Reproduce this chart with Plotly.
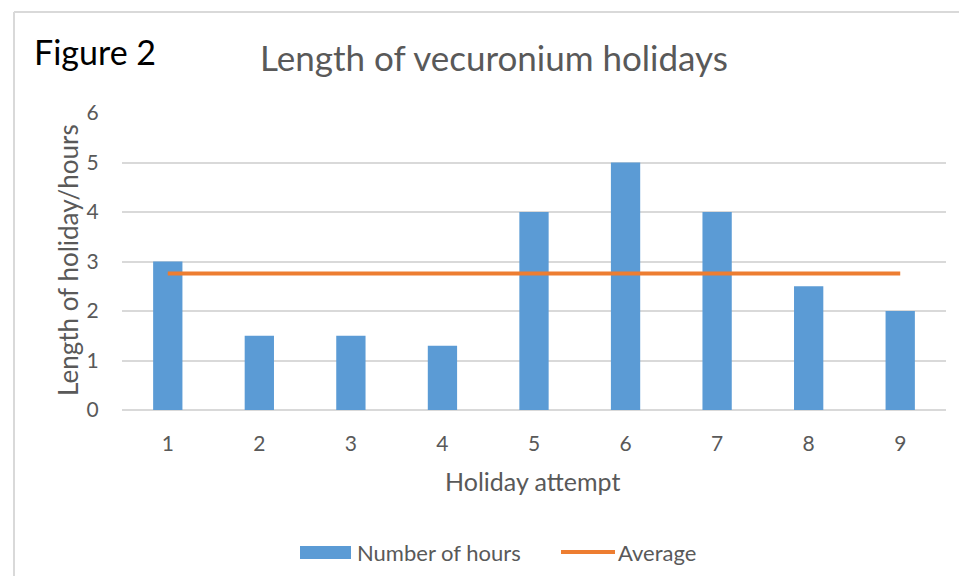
import plotly.graph_objects as go

attempts = [1, 2, 3, 4, 5, 6, 7, 8, 9]
hours = [3, 1.5, 1.5, 1.3, 4, 5, 4, 2.5, 2]
average = [round(sum(hours) / len(hours), 2)] * len(hours)
y_ticks = [0, 1, 2, 3, 4, 5, 6]
series_names = ["Number of hours", "Average"]
series_colors = ["#5b9bd5", "#ed7d31"]

FONT = "Lato, 'Open Sans', sans-serif"
GRAY = "#595959"
GRID = "#d9d9d9"

OFF = 8  # page body margin
W, H = 967 - OFF, 576 - OFF
L, R, T, B = 122 - OFF, 967 - 946, 113 - OFF, 576 - 410
pw, ph = W - L - R, H - T - B

def px(x):
    return (x - OFF - L) / pw

def py(y):
    return (H - B - (y - OFF)) / ph

fig = go.Figure()
fig.add_trace(go.Bar(x=attempts, y=hours, name=series_names[0],
                     marker=dict(color=series_colors[0], line=dict(width=0)),
                     width=0.32))
fig.add_trace(go.Scatter(x=attempts, y=average, name=series_names[1], mode="lines",
                         line=dict(color=series_colors[1], width=4)))

annotations = [
    dict(text="Figure 2", x=px(32), y=py(52), xref="paper", yref="paper",
         xanchor="left", yanchor="middle", showarrow=False,
         font=dict(size=34, color="black", family=FONT)),
    dict(text="Length of vecuronium holidays", x=px(494), y=py(57), xref="paper", yref="paper",
         xanchor="center", yanchor="middle", showarrow=False,
         font=dict(size=35, color=GRAY, family=FONT)),
    dict(text="Length of holiday/hours", x=px(68), y=py(260), xref="paper", yref="paper",
         xanchor="center", yanchor="middle", textangle=-90, showarrow=False,
         font=dict(size=26, color=GRAY, family=FONT)),
    dict(text="Holiday attempt", x=px(532), y=py(481), xref="paper", yref="paper",
         xanchor="center", yanchor="middle", showarrow=False,
         font=dict(size=25, color=GRAY, family=FONT)),
    # legend texts
    dict(text=series_names[0], x=px(355), y=py(552), xref="paper", yref="paper",
         xanchor="left", yanchor="middle", showarrow=False,
         font=dict(size=22, color=GRAY, family=FONT)),
    dict(text=series_names[1], x=px(616), y=py(552), xref="paper", yref="paper",
         xanchor="left", yanchor="middle", showarrow=False,
         font=dict(size=22, color=GRAY, family=FONT)),
]

shapes = [
    dict(type="line", xref="paper", yref="paper", x0=px(14), x1=px(967), y0=py(12), y1=py(12),
         line=dict(color=GRID, width=2)),
    dict(type="line", xref="paper", yref="paper", x0=px(14), x1=px(14), y0=py(12), y1=py(576),
         line=dict(color=GRID, width=2)),
    # legend swatches
    dict(type="rect", xref="paper", yref="paper", x0=px(300), x1=px(351), y0=py(546), y1=py(559),
         fillcolor=series_colors[0], line=dict(width=0)),
    dict(type="line", xref="paper", yref="paper", x0=px(561), x1=px(615), y0=py(552), y1=py(552),
         line=dict(color=series_colors[1], width=4)),
]

fig.update_layout(
    width=W, height=H,
    margin=dict(l=L, r=R, t=T, b=B, autoexpand=False),
    paper_bgcolor="white", plot_bgcolor="white",
    font=dict(family=FONT, color=GRAY, size=21),
    showlegend=False,
    xaxis=dict(range=[0.5, 9.5], tickvals=attempts, ticktext=[str(a) for a in attempts],
               showgrid=False, zeroline=False, showline=False,
               ticks="outside", ticklen=15, tickcolor="rgba(0,0,0,0)",
               tickfont=dict(size=21, color=GRAY)),
    yaxis=dict(range=[0, 6], tickvals=y_ticks, showgrid=True, gridcolor=GRID, gridwidth=1.5,
               zeroline=True, zerolinecolor=GRID, zerolinewidth=1.5, showline=False,
               ticks="outside", ticklen=18, tickcolor="rgba(0,0,0,0)",
               tickfont=dict(size=21, color=GRAY)),
    annotations=annotations,
    shapes=shapes,
)

fig.write_html("out.html")
